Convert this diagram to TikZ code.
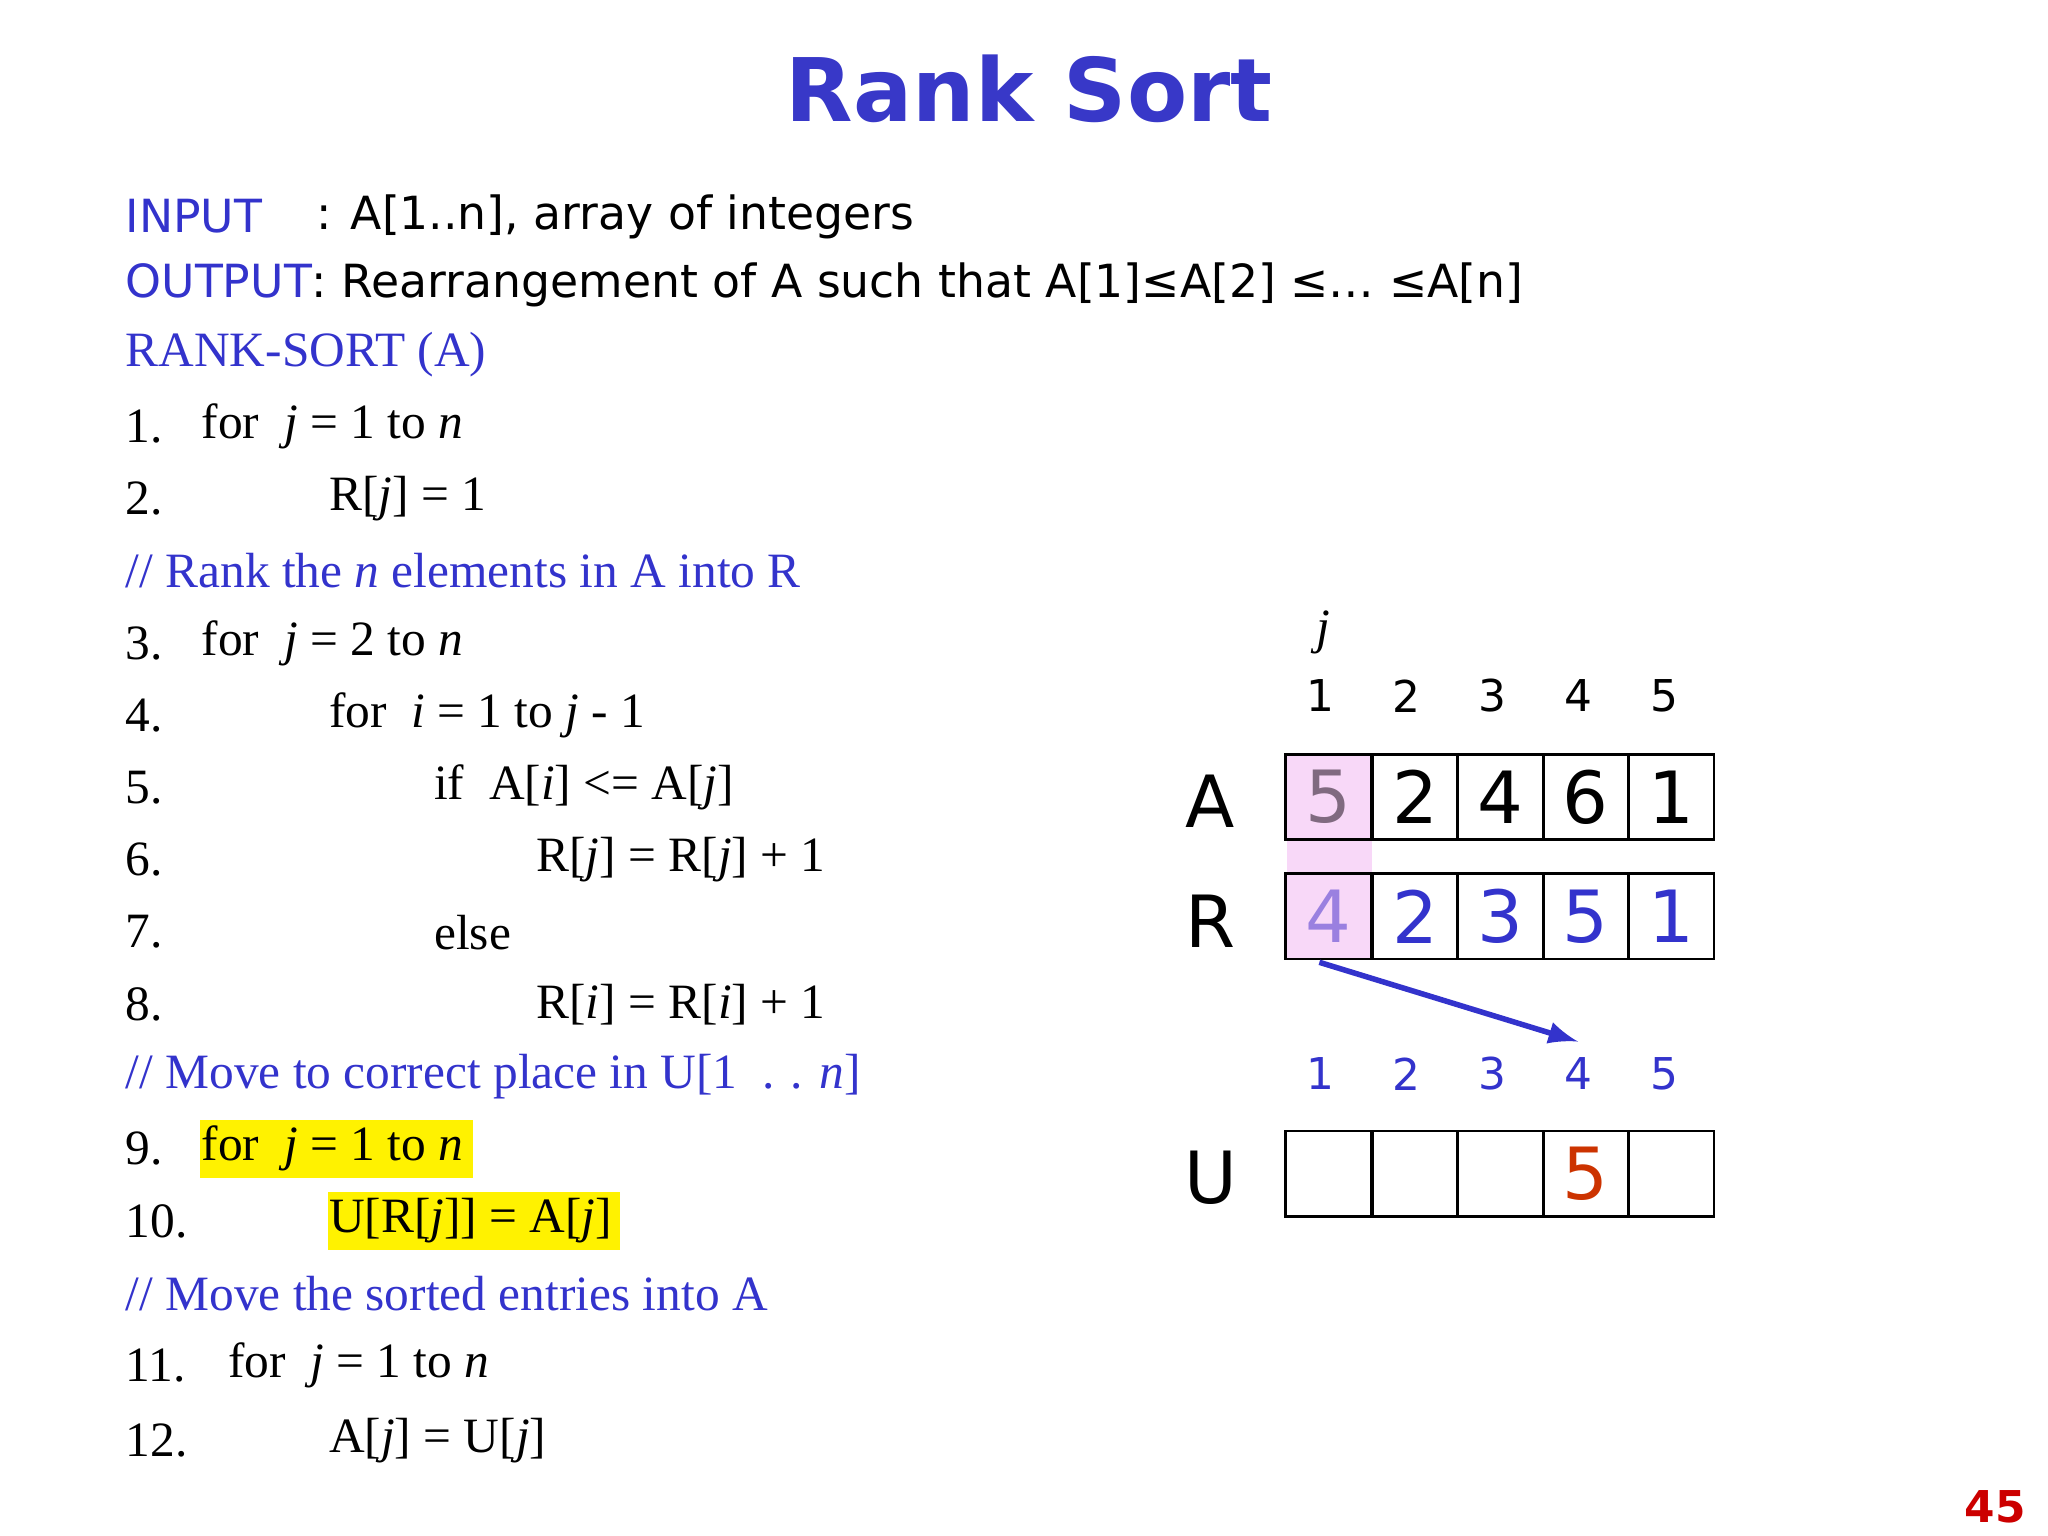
\documentclass[tikz,border=0pt]{standalone}
\usepackage{fontspec}
\setmainfont{Liberation Serif}
\newfontfamily\vfont{DejaVu Sans}
\definecolor{myblue}{HTML}{3333CC}
\definecolor{tblue}{HTML}{3838C8}
\definecolor{pinkf}{HTML}{F8D8F8}
\definecolor{fade5}{HTML}{806A80}
\definecolor{fade4}{HTML}{9A80E0}
\definecolor{ored}{HTML}{CC3300}
\begin{document}
\begin{tikzpicture}[x=0.01cm,y=-0.01cm,
  code/.style={anchor=west,inner sep=0pt,font=\fontsize{10.7}{12}\selectfont},
  vtext/.style={anchor=west,inner sep=0pt,font=\vfont\fontsize{9.9}{11}\selectfont},
  cell/.style={draw,minimum width=0.652cm,minimum height=0.65cm,inner sep=0pt,font=\vfont\fontsize{15.6}{18}\selectfont,line width=0.6pt},
  idx/.style={font=\vfont\fontsize{9.5}{11}\selectfont},
  lab/.style={font=\vfont\fontsize{15.6}{18}\selectfont}]
\useasboundingbox (0,0) rectangle (1560,1170);
\node[font=\vfont\bfseries\fontsize{19}{22}\selectfont,text=tblue] (title) at (784,68) {Rank Sort};
\node[vtext,text=myblue] (in) at (95,165) {INPUT};
\node[vtext] (in2) at (240,165) {: A[1..n], array of integers};
\node[vtext] (out) at (95,217) {\textcolor{myblue}{OUTPUT}: Rearrangement of A such that A[1]≤A[2] ≤… ≤A[n]};
\node[code,text=myblue] (l0) at (95,270) {RANK-SORT (A)};
\node[code] (n1) at (95,325) {1.}; \node[code] (c1) at (153,325) {for \ \textit{j} = 1 to \textit{n}};
\node[code] (n2) at (95,380) {2.}; \node[code] (c2) at (250,380) {R[\textit{j}] = 1};
\node[code,text=myblue] (cm1) at (95,435) {// Rank the \textit{n} elements in A into R};
\node[code] (n3) at (95,490) {3.}; \node[code] (c3) at (153,490) {for \ \textit{j} = 2 to \textit{n}};
\node[code] (n4) at (95,545) {4.}; \node[code] (c4) at (250,545) {for \ \textit{i} = 1 to \textit{j} - 1};
\node[code] (n5) at (95,600) {5.}; \node[code] (c5) at (330,600) {if \ A[\textit{i}] <= A[\textit{j}]};
\node[code] (n6) at (95,655) {6.}; \node[code] (c6) at (408,655) {R[\textit{j}] = R[\textit{j}] + 1};
\node[code] (n7) at (95,710) {7.}; \node[code] (c7) at (330,710) {else};
\node[code] (n8) at (95,765) {8.}; \node[code] (c8) at (408,765) {R[\textit{i}] = R[\textit{i}] + 1};
\node[code,text=myblue] (cm2) at (95,820) {// Move to correct place in U[1 \ . . \textit{n}]};
\node[code] (n9) at (95,875) {9.};
\fill[yellow] (152,853) rectangle (360,897);
\node[code] (c9) at (153,875) {for \ \textit{j} = 1 to \textit{n}};
\node[code] (n10) at (95,930) {10.};
\fill[yellow] (250,908) rectangle (472,952);
\node[code] (c10) at (250,930) {U[R[\textit{j}]] = A[\textit{j}]};
\node[code,text=myblue] (cm3) at (95,985) {// Move the sorted entries into A};
\node[code] (n11) at (95,1040) {11.}; \node[code] (c11) at (173,1040) {for \ \textit{j} = 1 to \textit{n}};
\node[code] (n12) at (95,1097) {12.}; \node[code] (c12) at (250,1097) {A[\textit{j}] = U[\textit{j}]};
% arrays
\fill[pinkf] (980,575) rectangle (1045,731);
\node[font=\itshape\fontsize{10.7}{12}\selectfont] (jl) at (1008,482) {j};
\foreach \i/\x in {1/1006,2/1071,3/1137,4/1202,5/1268}{
  \node[idx] (t\i) at (\x,530) {\i};
  \node[idx,text=myblue] (b\i) at (\x,818) {\i};}
\node[lab] (LA) at (922,610) {A};
\node[lab] (LR) at (922,702) {R};
\node[lab] (LU) at (922,897) {U};
\foreach \i/\x/\v in {1/1012/,2/1078/2,3/1143/4,4/1208/6,5/1273/1}{
  \node[cell] (a\i) at (\x,607) {\v};}
\foreach \i/\x/\v in {1/1012/,2/1078/2,3/1143/3,4/1208/5,5/1273/1}{
  \node[cell,text=myblue] (r\i) at (\x,698) {\v};}
\foreach \i/\x in {1/1012,2/1078,3/1143,4/1208,5/1273}{
  \node[cell] (u\i) at (\x,894) {};}
\node[font=\vfont\fontsize{15.6}{18}\selectfont,text=fade5] (a1v) at (a1) {5};
\node[font=\vfont\fontsize{15.6}{18}\selectfont,text=fade4] (r1v) at (r1) {4};
\node[font=\vfont\fontsize{15.6}{18}\selectfont,text=ored] (u4v) at (u4) {5};
\coordinate (as) at (1005,733);
\draw[myblue,line width=1.2pt,-latex] (as) -- (b4.north);
\node[font=\vfont\bfseries\fontsize{9.5}{11}\selectfont,text=red!80!black] (pg) at (1520,1148) {45};
\end{tikzpicture}
\end{document}
